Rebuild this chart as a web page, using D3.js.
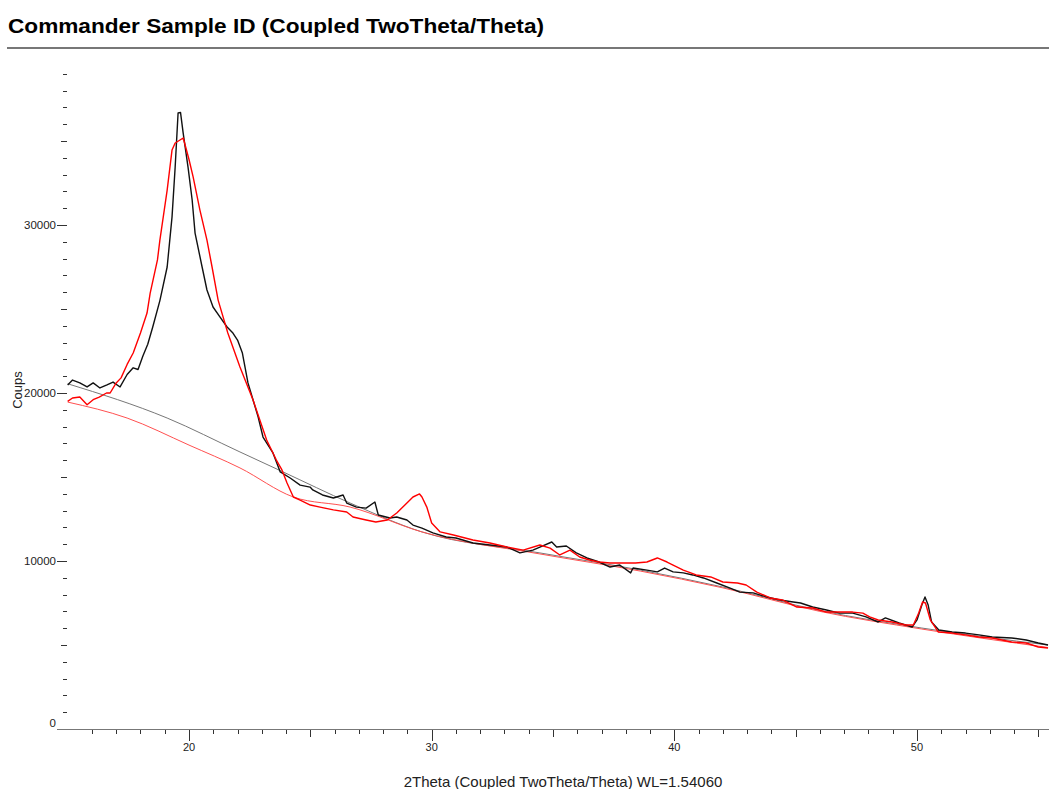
<!DOCTYPE html>
<html lang="en">
  <head>
    <meta charset="utf-8">
    <title>Commander Sample ID (Coupled TwoTheta/Theta)</title>
    <script src="https://d3js.org/d3.v7.min.js"></script>
    <style>
      html, body { margin: 0; padding: 0; background: #fff; }
      svg { display: block; font-family: "Liberation Sans", Arial, sans-serif; }
    </style>
  </head>
  <body>
    <script>
      // measured scan (black) - 2theta / counts
      const blackTheta = [15.0, 15.2, 15.5, 15.8, 16.05, 16.33, 16.62, 16.87, 17.16, 17.45, 17.7, 17.9, 18.1, 18.3, 18.5, 18.8, 19.1, 19.3, 19.43, 19.55, 19.65, 19.76, 19.96, 20.13, 20.25, 20.54, 20.74, 20.99, 21.28, 21.57, 21.81, 22.0, 22.2, 22.43, 22.64, 22.85, 23.05, 23.46, 23.76, 24.17, 24.58, 24.99, 25.1, 25.5, 25.95, 26.35, 26.5, 26.9, 27.3, 27.66, 27.8, 28.28, 28.56, 28.98, 29.23, 29.6, 30.05, 30.6, 31.0, 31.7, 32.4, 33.1, 33.64, 34.17, 34.46, 34.95, 35.15, 35.55, 35.96, 36.4, 36.9, 37.35, 37.75, 38.2, 38.3, 38.87, 39.3, 39.6, 39.95, 40.37, 40.76, 41.2, 41.75, 42.3, 42.7, 43.25, 43.8, 44.35, 44.9, 45.2, 45.7, 46.27, 46.8, 47.35, 47.9, 48.4, 48.7, 49.26, 49.8, 50.0, 50.2, 50.33, 50.46, 50.6, 50.9, 51.45, 52.0, 52.55, 53.1, 53.9, 54.5, 55.0, 55.4];
      const blackCounts = [20480, 20770, 20600, 20360, 20600, 20300, 20480, 20650, 20360, 21100, 21500, 21400, 22200, 22900, 23900, 25500, 27500, 30470, 33450, 36670, 36700, 35470, 33450, 31490, 29520, 27500, 26130, 25120, 24520, 23930, 23570, 23150, 22380, 20600, 19580, 18570, 17380, 16430, 15300, 14940, 14520, 14400, 14230, 13930, 13750, 13930, 13450, 13210, 13150, 13510, 12740, 12560, 12620, 12440, 12140, 11960, 11670, 11430, 11370, 11070, 10950, 10830, 10480, 10650, 10830, 11130, 10830, 10890, 10480, 10180, 9940, 9640, 9760, 9290, 9580, 9460, 9350, 9580, 9350, 9290, 9170, 8990, 8690, 8390, 8150, 8100, 7860, 7680, 7560, 7500, 7260, 7080, 6900, 6900, 6670, 6370, 6610, 6310, 6070, 6490, 7380, 7860, 7380, 6370, 5890, 5770, 5710, 5600, 5480, 5420, 5300, 5120, 5000];

      // measured scan (red)
      const redTheta = [15.0, 15.2, 15.5, 15.8, 16.05, 16.3, 16.6, 16.75, 17.0, 17.2, 17.45, 17.7, 18.0, 18.27, 18.4, 18.7, 18.8, 19.1, 19.3, 19.43, 19.63, 19.76, 19.84, 20.0, 20.17, 20.45, 20.74, 20.95, 21.2, 21.6, 22.1, 22.64, 23.2, 23.6, 23.83, 24.04, 24.3, 24.58, 25.0, 25.4, 25.95, 26.5, 26.76, 27.3, 27.7, 28.17, 28.56, 28.98, 29.23, 29.5, 29.6, 29.8, 30.0, 30.35, 30.9, 31.7, 32.4, 33.1, 33.77, 34.46, 34.88, 35.28, 35.7, 36.1, 36.5, 36.9, 37.35, 37.85, 38.4, 38.87, 39.3, 39.7, 39.95, 40.37, 40.9, 41.5, 42.0, 42.6, 42.96, 43.4, 43.95, 44.45, 45.05, 45.7, 46.27, 46.8, 47.35, 47.77, 48.05, 48.4, 48.97, 49.53, 49.85, 50.07, 50.23, 50.35, 50.55, 50.88, 51.45, 52.0, 52.55, 53.1, 53.9, 54.5, 55.0, 55.4];
      const redCounts = [19500, 19700, 19760, 19300, 19600, 19760, 20000, 20000, 20600, 20900, 21700, 22380, 23570, 24760, 25950, 27920, 29100, 32080, 34460, 34880, 35060, 35180, 34760, 33900, 32860, 30890, 29100, 27500, 25530, 23570, 21550, 19580, 17200, 16010, 15420, 14640, 13810, 13630, 13330, 13210, 13040, 12920, 12620, 12440, 12320, 12440, 12860, 13450, 13810, 13990, 13810, 13210, 12260, 11730, 11550, 11250, 11070, 10830, 10650, 10950, 10770, 10360, 10650, 10240, 10060, 9940, 9880, 9880, 9880, 9940, 10180, 9940, 9760, 9460, 9170, 9050, 8750, 8690, 8570, 8150, 7800, 7680, 7260, 7200, 6960, 6960, 6960, 6900, 6670, 6490, 6370, 6190, 6190, 6900, 7560, 7500, 6490, 5770, 5710, 5600, 5480, 5420, 5180, 5120, 4880, 4820];

      // fitted backgrounds
      const blackBgTheta = [15.0, 19.1, 22.1, 23.88, 26.64, 29.6, 34.46, 38.6, 42.0, 46.0, 50.2, 55.4];
      const blackBgCounts = [20550, 18510, 16490, 15300, 13450, 11730, 10480, 9460, 8450, 7050, 6010, 5000];
      const redBgTheta = [15.0, 17.45, 20.0, 22.1, 24.3, 26.64, 29.6, 34.46, 38.6, 42.0, 46.0, 50.2, 55.4];
      const redBgCounts = [19460, 18510, 16900, 15540, 13810, 13210, 11730, 10420, 9400, 8400, 7000, 5950, 4850];

      const xMajor = [20, 30, 40, 50];
      const yMajor = [0, 10000, 20000, 30000];

      const width = 1049, height = 789;

      const x = d3.scaleLinear().domain([15, 55.44]).range([67.67, 1049]);
      const y = d3.scaleLinear().domain([0, 40000]).range([729, 57]);

      const svg = d3.select('body').append('svg')
          .attr('width', width)
          .attr('height', height);

      // title + rule
      svg.append('text')
          .attr('x', 8).attr('y', 33)
          .attr('font-size', 21)
          .attr('font-weight', 'bold')
          .attr('textLength', 536)
          .attr('lengthAdjust', 'spacingAndGlyphs')
          .attr('fill', '#000')
          .text('Commander Sample ID (Coupled TwoTheta/Theta)');

      svg.append('line')
          .attr('x1', 7).attr('x2', width)
          .attr('y1', 48).attr('y2', 48)
          .attr('stroke', '#777').attr('stroke-width', 2);

      // y ticks (no axis line)
      const yTicks = d3.range(0, 40000, 1000);
      const yg = svg.append('g').attr('stroke', '#333');
      yg.selectAll('line').data(yTicks).enter().append('line')
          .attr('x1', d => d % 10000 === 0 ? 57 : d % 5000 === 0 ? 61 : 63)
          .attr('x2', 67)
          .attr('y1', d => Math.round(y(d)) + 0.5)
          .attr('y2', d => Math.round(y(d)) + 0.5)
          .attr('stroke-width', 1);

      svg.append('g').selectAll('text').data(yMajor).enter().append('text')
          .attr('x', 56)
          .attr('y', d => d === 0 ? y(d) - 2 : y(d) + 4)
          .attr('text-anchor', 'end')
          .attr('font-size', 11.5)
          .attr('fill', '#222')
          .text(d => d);

      // x axis
      svg.append('line')
          .attr('x1', 57).attr('x2', width)
          .attr('y1', 729.5).attr('y2', 729.5)
          .attr('stroke', '#777');

      const xTicks = d3.range(16, 56, 1);
      svg.append('g').attr('stroke', '#333').selectAll('line').data(xTicks).enter().append('line')
          .attr('x1', d => Math.round(x(d)) + 0.5)
          .attr('x2', d => Math.round(x(d)) + 0.5)
          .attr('y1', 730)
          .attr('y2', d => d % 10 === 0 ? 741 : d % 5 === 0 ? 737 : 734);

      svg.append('g').selectAll('text').data(xMajor).enter().append('text')
          .attr('x', d => x(d))
          .attr('y', 751)
          .attr('text-anchor', 'middle')
          .attr('font-size', 11)
          .attr('fill', '#222')
          .text(d => d);

      // axis titles
      svg.append('text')
          .attr('transform', 'translate(22,390) rotate(-90)')
          .attr('text-anchor', 'middle')
          .attr('font-size', 13)
          .attr('fill', '#222')
          .text('Coups');

      svg.append('text')
          .attr('x', 563).attr('y', 787)
          .attr('text-anchor', 'middle')
          .attr('font-size', 15)
          .attr('fill', '#222')
          .text('2Theta (Coupled TwoTheta/Theta) WL=1.54060');

      // curves
      const line = d3.line()
          .x(d => x(d[0]))
          .y(d => y(d[1]));
      const smooth = d3.line()
          .x(d => x(d[0]))
          .y(d => y(d[1]))
          .curve(d3.curveMonotoneX);

      svg.append('path')
          .datum(d3.zip(blackBgTheta, blackBgCounts))
          .attr('fill', 'none')
          .attr('stroke', '#777')
          .attr('stroke-width', 1)
          .attr('d', smooth);

      svg.append('path')
          .datum(d3.zip(redBgTheta, redBgCounts))
          .attr('fill', 'none')
          .attr('stroke', '#ff5050')
          .attr('stroke-width', 1)
          .attr('d', smooth);

      svg.append('path')
          .datum(d3.zip(blackTheta, blackCounts))
          .attr('fill', 'none')
          .attr('stroke', '#111')
          .attr('stroke-width', 1.4)
          .attr('stroke-linejoin', 'round')
          .attr('d', line);

      svg.append('path')
          .datum(d3.zip(redTheta, redCounts))
          .attr('fill', 'none')
          .attr('stroke', '#ff0000')
          .attr('stroke-width', 1.4)
          .attr('stroke-linejoin', 'round')
          .attr('d', line);
    </script>
  </body>
</html>
